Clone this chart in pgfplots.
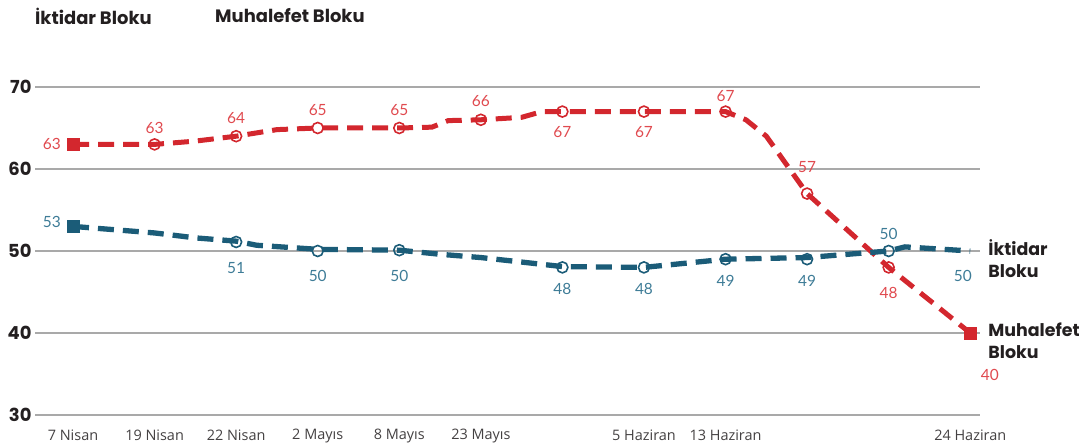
\documentclass[border=0pt]{standalone}
\usepackage{fontspec}
\setmainfont{Lato}
\newfontfamily\headfont{Poppins}
\newfontfamily\tickfont{Open Sans}
\usepackage{pgfplots}
\pgfplotsset{compat=1.18}
\definecolor{redA}{HTML}{D3272E}
\definecolor{redL}{HTML}{E04A4F}
\definecolor{blueA}{HTML}{1B5C78}
\definecolor{blueL}{HTML}{3E7C97}
\definecolor{gridc}{HTML}{A9A9A9}
\definecolor{headc}{HTML}{231F20}
\begin{document}
\begin{tikzpicture}[x=1bp,y=1bp]
\path[use as bounding box] (0,0) rectangle (1090,448);
\node[anchor=west, font=\headfont\bfseries\fontsize{18}{21}\selectfont, text=headc, inner sep=0] at (35,432) {İktidar Bloku};
\node[anchor=west, font=\headfont\bfseries\fontsize{18}{21}\selectfont, text=headc, inner sep=0] at (215,432) {Muhalefet Bloku};
\begin{axis}[
  at={(35bp,33bp)}, anchor=south west,
  scale only axis, width=945bp, height=328bp,
  xmin=-0.466, xmax=11.12, ymin=30, ymax=70,
  clip=false,
  axis line style={draw=none},
  tick style={draw=none},
  ytick={30,40,50,60,70},
  ymajorgrids, major grid style={gridc, line width=1.3bp},
  xtick={0,1,2,3,4,5,7,8,11},
  xticklabels={7 Nisan,19 Nisan,22 Nisan,2 Mayıs,8 Mayıs,23 Mayıs,5 Haziran,13 Haziran,24 Haziran},
  xticklabel style={font=\tickfont\fontsize{14.5}{16}\selectfont, text=headc!85, yshift=-11bp},
  yticklabel style={font=\headfont\bfseries\fontsize{18}{20}\selectfont, text=headc},
  /pgf/number format/assume math mode=true,
]
% Red line (Muhalefet)
\addplot[redA, line width=5bp, dash pattern=on 16bp off 9bp, mark=none] coordinates {
 (0,63) (1,63) (1.5,63.4) (2,64) (2.5,64.8) (3,65) (4,65) (4.4,65.1) (4.6,65.9) (5,66)
 (5.5,66.3) (5.75,67) (6,67) (7,67) (8,67) (8.25,66) (8.5,64) (9,57) (10,48) (11,40)};
% Blue line (Iktidar)
\addplot[blueA, line width=5.3bp, dash pattern=on 16bp off 9bp, mark=none] coordinates {
 (0,53) (1,52.2) (1.5,51.6) (2,51.2) (2.25,50.7) (3,50.2) (4,50.1) (4.5,49.6) (5,49.2)
 (6,48.1) (7,48) (8,49) (9,49.2) (10,50) (10.2,50.5) (11,50)};
% markers
\addplot[only marks, mark=o, mark size=5.5bp, mark options={draw=redA, line width=1.6bp}] coordinates {
 (1,63) (2,64) (3,65) (4,65) (5,66) (6,67) (7,67) (8,67) (9,57) (10,48)};
\addplot[only marks, mark=square*, mark size=6.2bp, mark options={fill=redA, draw=redA}] coordinates {(0,63) (11,40)};
\addplot[only marks, mark=o, mark size=5.5bp, mark options={draw=blueA, line width=1.6bp}] coordinates {
 (2,51.1) (3,50) (4,50.1) (6,48) (7,48) (8,49) (9,49) (10,50)};
\addplot[only marks, mark=square*, mark size=6.2bp, mark options={fill=blueA, draw=blueA}] coordinates {(0,53)};
% labels
\begin{scope}[every node/.style={font=\fontsize{15.5}{17}\selectfont}]
\node[text=redL] at (axis cs:-0.26,63.0) {63};
\node[text=redL] at (axis cs:1,65.0) {63};
\node[text=redL] at (axis cs:2,66.2) {64};
\node[text=redL] at (axis cs:3,67.2) {65};
\node[text=redL] at (axis cs:4,67.2) {65};
\node[text=redL] at (axis cs:5,68.3) {66};
\node[text=redL] at (axis cs:6,64.5) {67};
\node[text=redL] at (axis cs:7,64.5) {67};
\node[text=redL] at (axis cs:8,68.9) {67};
\node[text=redL] at (axis cs:9,60.2) {57};
\node[text=redL] at (axis cs:10,44.9) {48};
\node[text=redL] at (axis cs:11.24,34.9) {40};
\node[text=blueL] at (axis cs:-0.26,53.5) {53};
\node[text=blueL] at (axis cs:2,47.9) {51};
\node[text=blueL] at (axis cs:3,46.95) {50};
\node[text=blueL] at (axis cs:4,46.95) {50};
\node[text=blueL] at (axis cs:6,45.4) {48};
\node[text=blueL] at (axis cs:7,45.4) {48};
\node[text=blueL] at (axis cs:8,46.3) {49};
\node[text=blueL] at (axis cs:9,46.3) {49};
\node[text=blueL] at (axis cs:10,52.1) {50};
\node[text=blueL] at (axis cs:10.91,46.95) {50};
\end{scope}
\node[anchor=west, align=left, inner sep=0, text=headc, font=\headfont\bfseries\fontsize{17.5}{22}\selectfont] at (axis cs:11.22,49.1) {İktidar\\Bloku};
\node[anchor=west, align=left, inner sep=0, text=headc, font=\headfont\bfseries\fontsize{17.5}{22}\selectfont] at (axis cs:11.22,39.1) {Muhalefet\\Bloku};
\end{axis}
\end{tikzpicture}
\end{document}
